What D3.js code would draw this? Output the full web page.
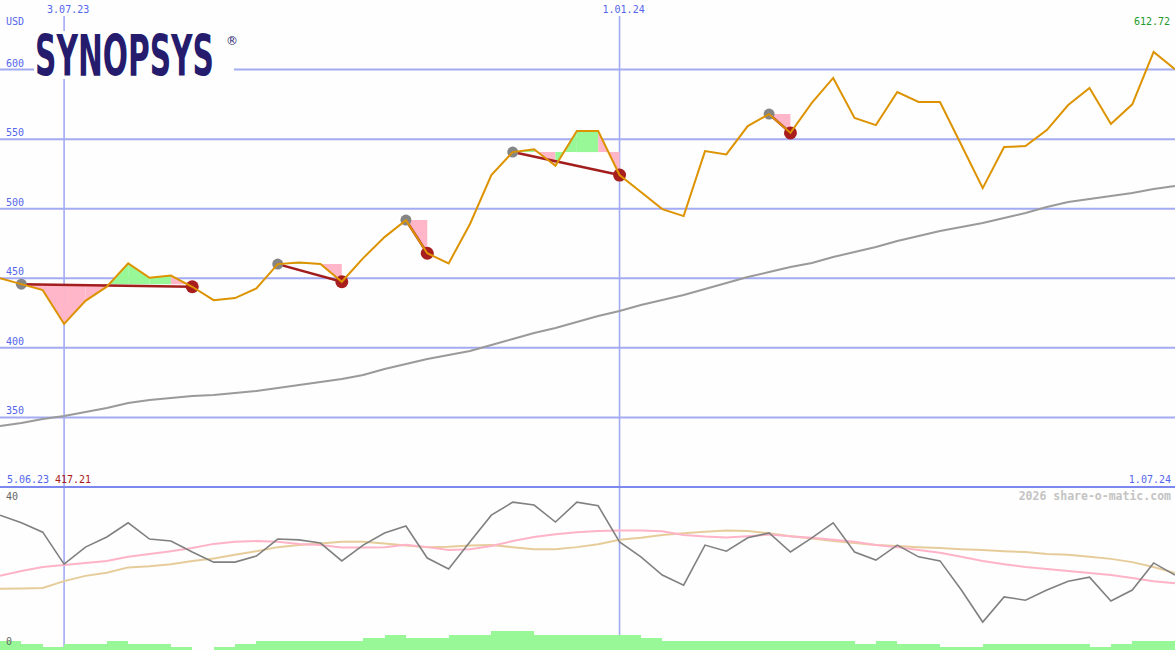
<!DOCTYPE html>
<html><head><meta charset="utf-8">
<script src="https://cdn.jsdelivr.net/npm/d3@7/dist/d3.min.js"></script>
<style>html,body{margin:0;padding:0;background:#fdfefd;}svg{display:block;}</style>
</head><body>
<svg id="chart" width="1175" height="650"></svg>
<script>
// ---- data ----
const weeks = ["2023-06-12","2023-06-19","2023-06-26","2023-07-03","2023-07-10","2023-07-17","2023-07-24","2023-07-31",
"2023-08-07","2023-08-14","2023-08-21","2023-08-28","2023-09-04","2023-09-11","2023-09-18","2023-09-25",
"2023-10-02","2023-10-09","2023-10-16","2023-10-23","2023-10-30","2023-11-06","2023-11-13","2023-11-20",
"2023-11-27","2023-12-04","2023-12-11","2023-12-18","2023-12-25","2024-01-01","2024-01-08","2024-01-15",
"2024-01-22","2024-01-29","2024-02-05","2024-02-12","2024-02-19","2024-02-26","2024-03-04","2024-03-11",
"2024-03-18","2024-03-25","2024-04-01","2024-04-08","2024-04-15","2024-04-22","2024-04-29","2024-05-06",
"2024-05-13","2024-05-20","2024-05-27","2024-06-03","2024-06-10","2024-06-17","2024-06-24","2024-07-01"];
const price = [450.0,445.8,441.5,417.21,433.8,444.0,460.7,450.4,452.0,443.9,434.3,435.8,442.7,460.2,461.4,460.3,
447.5,464.5,479.6,491.8,468.0,460.7,489.0,524.2,540.7,542.7,530.9,555.8,555.8,524.2,512.0,499.7,
494.7,541.4,539.0,559.4,568.0,554.5,576.0,594.0,565.2,560.1,583.9,576.7,576.7,545.8,514.8,544.3,
545.0,556.5,574.5,586.7,560.9,575.0,612.72,600.2];
const ma200 = [343.8,346.0,348.9,351.0,353.9,356.8,360.4,362.5,364.0,365.4,366.1,367.6,369.0,371.1,373.3,375.5,
377.6,380.5,384.8,388.4,392.0,394.9,397.7,402.0,406.4,410.7,414.3,418.6,422.9,426.5,430.8,434.4,
438.0,442.3,446.6,450.9,454.5,458.1,461.0,465.3,468.9,472.5,476.8,480.4,484.0,486.9,489.7,493.3,
496.9,501.2,504.8,507.0,509.1,511.3,514.2,516.3];
const buyIdx  = [1, 13, 19, 24, 36];
const sellIdx = [9, 16, 20, 29, 37];
const indGrey = [33.3,31.4,29.1,21.2,25.4,27.9,31.4,27.4,26.9,24.2,21.7,21.7,23.2,27.4,27.2,26.4,
22.0,25.9,28.9,30.6,22.7,20.0,26.7,33.3,36.5,35.8,31.6,36.5,35.6,26.7,23.0,18.5,
16.0,25.9,24.4,27.7,28.9,24.2,27.7,31.4,24.2,22.2,25.9,23.0,22.0,14.8,6.9,13.1,
12.3,14.8,17.0,18.0,12.1,14.8,21.5,18.5];
const indPink = [18.3,19.5,20.5,21.0,21.5,22.0,23.0,23.7,24.4,25.2,26.2,26.7,26.9,26.7,26.2,25.9,
25.3,25.3,25.4,26.0,25.4,24.7,24.9,25.7,26.9,27.9,28.6,29.1,29.4,29.5,29.5,29.3,
28.4,28.0,27.8,28.1,28.5,28.1,27.7,27.2,26.7,25.9,25.4,24.7,24.0,23.0,22.0,21.2,
20.5,20.0,19.5,19.0,18.5,17.8,17.0,16.5];
const indTan = [15.1,15.2,15.3,17.0,18.3,19.1,20.4,20.7,21.2,22.0,22.6,23.5,24.4,25.4,25.9,26.3,
26.7,26.7,26.3,25.8,25.4,25.5,25.8,25.9,25.4,24.9,24.9,25.4,26.1,27.2,27.7,28.4,
28.8,29.2,29.5,29.4,28.8,28.1,27.5,26.9,26.4,25.9,25.7,25.4,25.2,24.9,24.7,24.4,
24.2,23.7,23.5,23.0,22.5,21.7,20.5,19.0];
const volume = [3,2.1,1.1,2.1,2.1,3,2.1,2.1,1.1,0,1.1,2.1,3,3,3,3,3,4,5,4,4,5,5,6.4,6.4,5,5,5,5,5,4,3,
3,3,3,3,3,3,3,3,2.1,3,2.1,2.1,1.1,1.1,2.1,2.1,2.1,2.1,2.1,1.1,2.1,3,3];
const yTicks = [350,400,450,500,550,600];
const vLineDates = ["2023-07-03","2024-01-01"];
const vLineLabels = ["3.07.23","1.01.24"];
const startLabel = "5.06.23", endLabel = "1.07.24";
const minLabel = "417.21", maxLabel = "612.72";
const lowTickLabels = ["40","0"];

// ---- scales ----
const W = 1175, H = 650;
const parse = d3.utcParse("%Y-%m-%d");
const dates = weeks.map(parse);
const x = d3.scaleUtc().domain([dates[0], dates[dates.length-1]]).range([0, W]);
const y = d3.scaleLinear().domain([300, 650]).range([487, 0]);
const yLow = d3.scaleLinear().domain([0, 40]).range([650, 488]);
const yVol = d3.scaleLinear().domain([0, 50]).range([650, 500]);

const svg = d3.select("#chart");
svg.append("rect").attr("width", W).attr("height", H).attr("fill", "#fdfefd");

const gridC = "#a3abf3", labC = "#5566ee", mono = "'DejaVu Sans Mono', 'Liberation Mono', monospace";

// horizontal grid
svg.append("g").selectAll("line").data(yTicks).join("line")
  .attr("x1", 0).attr("x2", W).attr("y1", d => y(d)).attr("y2", d => y(d))
  .attr("stroke", gridC).attr("stroke-width", 2);

// vertical lines
vLineDates.forEach((d, i) => {
  const xv = x(parse(d));
  svg.append("line").attr("x1", xv).attr("x2", xv).attr("y1", 16).attr("y2", H)
    .attr("stroke", gridC).attr("stroke-width", 1.6);
});

// separator
svg.append("line").attr("x1", 0).attr("x2", W).attr("y1", 487).attr("y2", 487)
  .attr("stroke", "#7d88ee").attr("stroke-width", 2);

// lower panel
const lowLine = arr => d3.line().x((d, i) => x(dates[i])).y(d => yLow(d))(arr);
svg.append("path").attr("d", lowLine(indTan)).attr("fill", "none").attr("stroke", "#e6cc9a").attr("stroke-width", 2);
svg.append("path").attr("d", lowLine(indPink)).attr("fill", "none").attr("stroke", "#ffb3c8").attr("stroke-width", 2);
svg.append("path").attr("d", lowLine(indGrey)).attr("fill", "none").attr("stroke", "#808080").attr("stroke-width", 1.6);
svg.append("g").selectAll("rect").data(volume).join("rect")
  .attr("x", (d, i) => x(dates[i])).attr("width", (d, i) => x(dates[i+1]) - x(dates[i]))
  .attr("y", d => yVol(d)).attr("height", d => yVol(0) - yVol(d))
  .attr("fill", "#98f898").attr("shape-rendering", "crispEdges");

// logo
svg.append("rect").attr("x", 34).attr("y", 31).attr("width", 200).attr("height", 48).attr("fill", "#fdfefd");
const logo = svg.append("text").attr("x", 0).attr("y", 0).text("SYNOPSYS")
  .attr("font-family", "'DejaVu Sans Condensed', 'Liberation Sans Narrow', 'Arial Narrow', sans-serif")
  .attr("font-weight", "bold").attr("font-size", 40).attr("fill", "#261c6e");
const natW = logo.node().getComputedTextLength();
logo.attr("transform", `translate(35,76) scale(${179 / natW},1.43)`);
svg.append("text").attr("x", 226).attr("y", 45).text("®")
  .attr("font-family", "'DejaVu Sans', sans-serif").attr("font-size", 12).attr("fill", "#261c6e");

// moving average
svg.append("path").attr("d", d3.line().x((d, i) => x(dates[i])).y(d => y(d))(ma200))
  .attr("fill", "none").attr("stroke", "#9a9a9a").attr("stroke-width", 2);

// signal fills
const fillG = svg.append("g");
buyIdx.forEach((b, k) => {
  const s = sellIdx[k], lvl = price[b];
  for (let i = b; i < s; i++) {
    const pts = [[x(dates[i]), y(lvl)], [x(dates[i]), y(price[i])], [x(dates[i+1]), y(price[i+1])], [x(dates[i+1]), y(lvl)]];
    fillG.append("polygon").attr("points", pts.map(p => p.join(",")).join(" "))
      .attr("fill", price[i+1] >= lvl ? "#98f898" : "#ffb6c8");
  }
});
// signal lines and dots
buyIdx.forEach((b, k) => {
  const s = sellIdx[k];
  svg.append("line").attr("x1", x(dates[b])).attr("y1", y(price[b])).attr("x2", x(dates[s])).attr("y2", y(price[s]))
    .attr("stroke", "#a21e1e").attr("stroke-width", 2.5);
});
svg.append("g").selectAll("circle").data(buyIdx).join("circle")
  .attr("cx", d => x(dates[d])).attr("cy", d => y(price[d])).attr("r", 5.5).attr("fill", "#858585");
svg.append("g").selectAll("circle").data(sellIdx).join("circle")
  .attr("cx", d => x(dates[d])).attr("cy", d => y(price[d])).attr("r", 6.5).attr("fill", "#a81e1e");

// price line
svg.append("path").attr("d", d3.line().x((d, i) => x(dates[i])).y(d => y(d))(price))
  .attr("fill", "none").attr("stroke", "#dd9300").attr("stroke-width", 2);

// texts
svg.append("g").selectAll("text").data(yTicks).join("text")
  .attr("x", 6).attr("y", d => y(d) - 3).text(d => d)
  .attr("font-family", mono).attr("font-size", 10).attr("fill", labC);
vLineDates.forEach((d, i) => {
  const xv = x(parse(d));
  svg.append("text").attr("x", xv - 17).attr("y", 13).text(vLineLabels[i])
    .attr("font-family", mono).attr("font-size", 10).attr("fill", labC);
});
svg.append("text").attr("x", 6).attr("y", 25).text("USD").attr("font-family", mono).attr("font-size", 10).attr("fill", labC);
svg.append("text").attr("x", 1170).attr("y", 25).attr("text-anchor", "end").text(maxLabel)
  .attr("font-family", mono).attr("font-size", 10).attr("fill", "#22992a");
svg.append("text").attr("x", 7).attr("y", 483).text(startLabel).attr("font-family", mono).attr("font-size", 10).attr("fill", labC);
svg.append("text").attr("x", 55).attr("y", 483).text(minLabel).attr("font-family", mono).attr("font-size", 10).attr("fill", "#aa1a1a");
svg.append("text").attr("x", 1171).attr("y", 483).attr("text-anchor", "end").text(endLabel)
  .attr("font-family", mono).attr("font-size", 10).attr("fill", labC);
svg.append("text").attr("x", 1171).attr("y", 500).attr("text-anchor", "end").text("2026 share-o-matic.com")
  .attr("font-family", mono).attr("font-size", 11.5).attr("font-weight", "bold").attr("fill", "#c4c4c4");
svg.append("text").attr("x", 6).attr("y", 500).text(lowTickLabels[0]).attr("font-family", mono).attr("font-size", 10).attr("fill", "#666");
svg.append("text").attr("x", 6).attr("y", 645).text(lowTickLabels[1]).attr("font-family", mono).attr("font-size", 10).attr("fill", "#666");
</script>
</body></html>
